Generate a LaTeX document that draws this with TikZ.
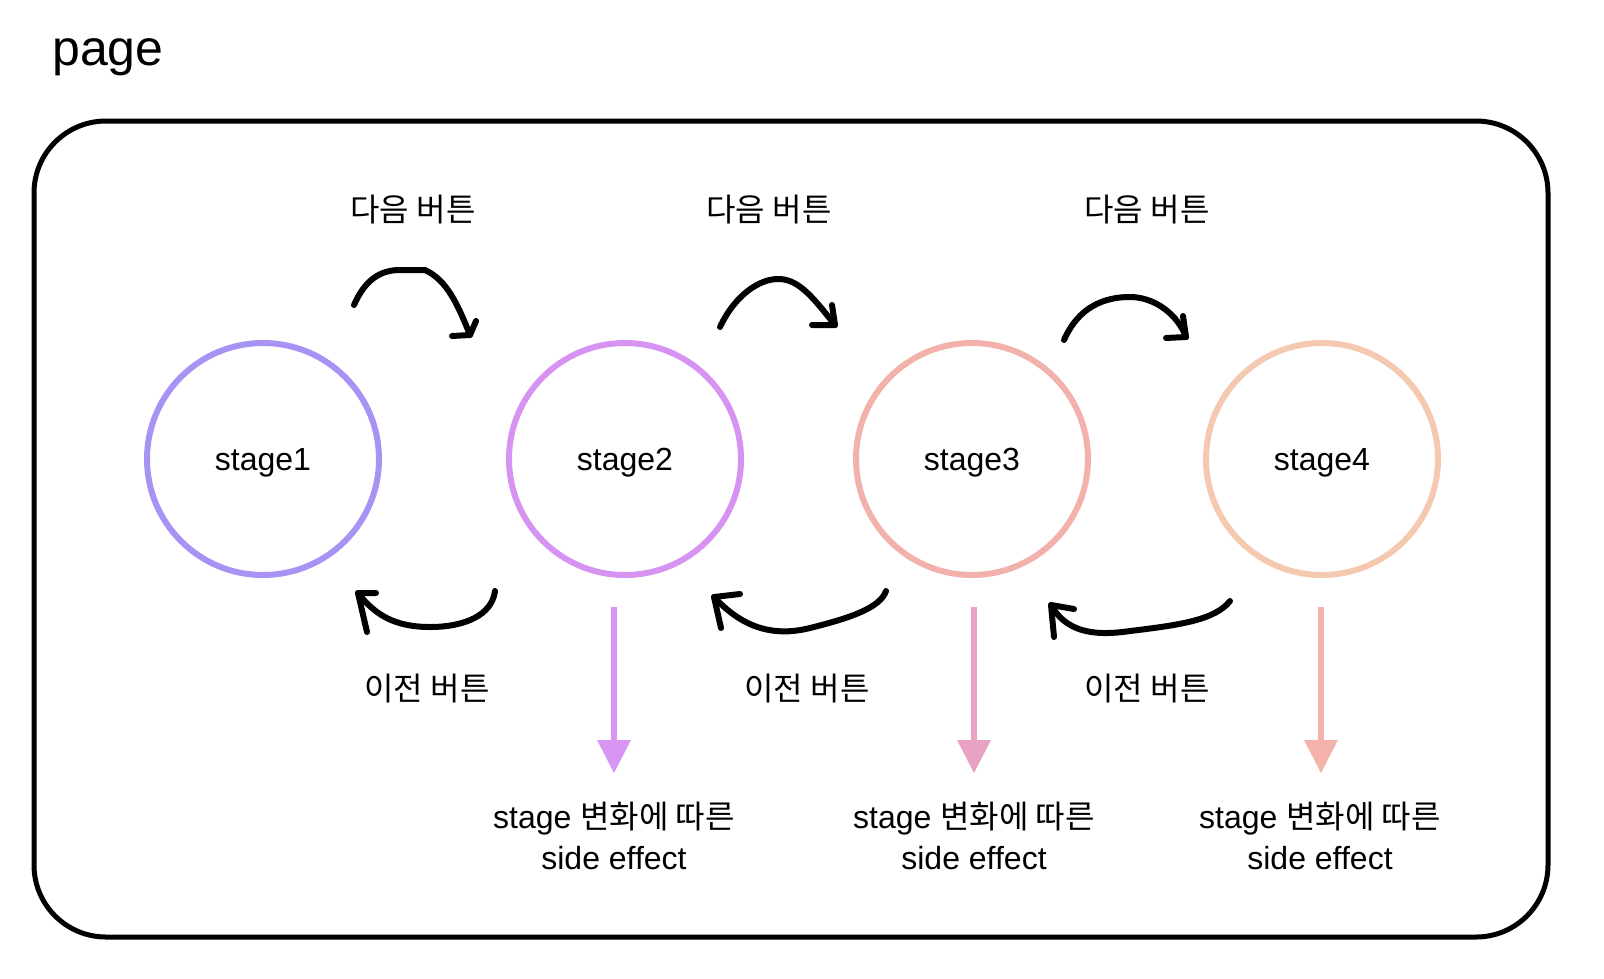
\documentclass[tikz,border=0pt]{standalone}
\usepackage{fontspec}
\setmainfont{Liberation Sans}
\newfontfamily\kr{Noto Sans CJK KR}[Scale=1.0]
\definecolor{cA}{HTML}{A892F4}
\definecolor{cB}{HTML}{D793F2}
\definecolor{cC}{HTML}{F2B1AB}
\definecolor{cD}{HTML}{F5C8B0}
\definecolor{aB}{HTML}{D896F2}
\definecolor{aC}{HTML}{E8A3C3}
\definecolor{aD}{HTML}{F5B2AA}
\begin{document}
\begin{tikzpicture}[x=1pt,y=-1pt,
  stagenode/.style={circle,draw,line width=6pt,minimum size=232pt,inner sep=0pt,text height=26.2pt,text depth=3.5pt,font=\fontsize{32}{38}\selectfont},
  lbl/.style={font=\fontsize{32}{38}\selectfont,inner sep=0pt},
  effect/.style={font=\fontsize{32}{41}\selectfont,align=center,inner sep=0pt},
  hand/.style={line width=6pt,line cap=round,line join=round,black},
  down/.style={line width=6.5pt},
]
\useasboundingbox (0,0) rectangle (1604,978);
\node[anchor=west,inner sep=0pt,font=\fontsize{50}{58}\selectfont] (title) at (52,57) {page};
\draw[line width=5pt,rounded corners=72pt] (34,121) rectangle (1548,937);
\node[stagenode,draw=cA] (s1) at (263,459) {stage1};
\node[stagenode,draw=cB] (s2) at (625,459) {stage2};
\node[stagenode,draw=cC] (s3) at (972,459) {stage3};
\node[stagenode,draw=cD] (s4) at (1322,459) {stage4};
% next labels
\node[lbl] (n1) at (413,210) {\kr 다음 버튼};
\node[lbl] (n2) at (769,210) {\kr 다음 버튼};
\node[lbl] (n3) at (1147,210) {\kr 다음 버튼};
% prev labels
\node[lbl] (p1) at (427,689) {\kr 이전 버튼};
\node[lbl] (p2) at (807,689) {\kr 이전 버튼};
\node[lbl] (p3) at (1147,689) {\kr 이전 버튼};
% side effects
\node[effect] (e2) at (614,836) {stage {\kr 변화에 따른}\\side effect};
\node[effect] (e3) at (974,836) {stage {\kr 변화에 따른}\\side effect};
\node[effect] (e4) at (1320,836) {stage {\kr 변화에 따른}\\side effect};
% vertical arrows
\coordinate (d2s) at (614,607); \coordinate (d2e) at (614,742);
\coordinate (d3s) at (974,607); \coordinate (d3e) at (974,742);
\coordinate (d4s) at (1321,607); \coordinate (d4e) at (1321,742);
\draw[down,aB] (d2s) -- (d2e);
\fill[aB] (597,740) -- (631,740) -- (614,773) -- cycle;
\draw[down,aC] (d3s) -- (d3e);
\fill[aC] (957,740) -- (991,740) -- (974,773) -- cycle;
\draw[down,aD] (d4s) -- (d4e);
\fill[aD] (1304,740) -- (1338,740) -- (1321,773) -- cycle;
% top hand arrows
\coordinate (t1s) at (354,305); \coordinate (t1e) at (470,335);
\draw[hand] (t1s) .. controls (365,280) and (380,270) .. (400,270) -- (425,270) .. controls (447,280) and (458,305) .. (t1e);
\draw[hand] (452,336) -- (t1e) -- (476,321);
\coordinate (t2s) at (720,327); \coordinate (t2e) at (835,325);
\draw[hand] (t2s) .. controls (735,295) and (760,278) .. (780,279) .. controls (800,280) and (815,300) .. (t2e);
\draw[hand] (812,325) -- (t2e) -- (832,305);
\coordinate (t3s) at (1064,340); \coordinate (t3e) at (1186,337);
\draw[hand] (t3s) .. controls (1075,315) and (1095,297) .. (1130,297) .. controls (1155,297) and (1178,315) .. (t3e);
\draw[hand] (1166,338) -- (t3e) -- (1183,316);
% bottom hand arrows
\coordinate (b1s) at (495,591); \coordinate (b1e) at (358,593);
\draw[hand] (b1s) .. controls (492,615) and (465,627) .. (430,627) .. controls (395,627) and (375,615) .. (b1e);
\draw[hand] (376,593) -- (b1e) -- (367,632);
\coordinate (b2s) at (886,591); \coordinate (b2e) at (714,597);
\draw[hand] (b2s) .. controls (880,608) and (850,618) .. (810,628) .. controls (770,638) and (740,625) .. (b2e);
\draw[hand] (740,594) -- (b2e) -- (721,628);
\coordinate (b3s) at (1230,601); \coordinate (b3e) at (1051,605);
\draw[hand] (b3s) .. controls (1215,620) and (1180,625) .. (1130,631) .. controls (1090,637) and (1065,630) .. (b3e);
\draw[hand] (1074,609) -- (b3e) -- (1054,637);
\end{tikzpicture}
\end{document}
